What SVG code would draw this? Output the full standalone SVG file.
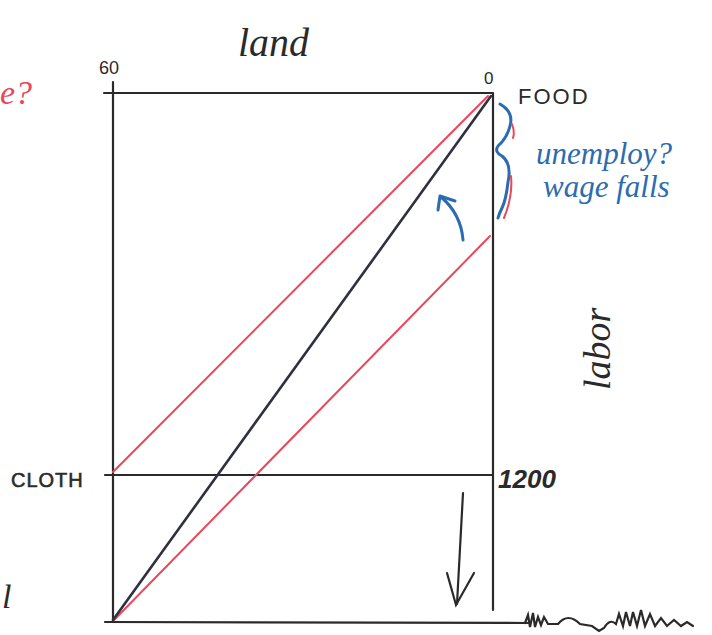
<svg xmlns="http://www.w3.org/2000/svg" width="712" height="635" viewBox="0 0 712 635">
<style>
.ax{stroke:#2a2a2a;stroke-width:2.2;fill:none;stroke-linecap:round}
.blk{stroke:#2f3040;stroke-width:2.6;fill:none;stroke-linecap:round}
.red{stroke:#e8485a;stroke-width:2;fill:none;stroke-linecap:round}
.blue{stroke:#2b6cb0;stroke-width:3;fill:none;stroke-linecap:round;stroke-linejoin:round}
.hand{font-family:"Liberation Serif",serif;font-style:italic;fill:#2a2a2a}
.caps{font-family:"Liberation Sans",sans-serif;fill:#2a2a2a}
.btxt{font-family:"Liberation Serif",serif;font-style:italic;fill:#2b6cb0}
</style>
<rect width="712" height="635" fill="#ffffff"/>
<g id="axes">
<line class="ax" x1="104" y1="93" x2="492" y2="93"/>
<line class="ax" x1="113" y1="82" x2="113" y2="622"/>
<line class="ax" x1="493" y1="93" x2="493" y2="610"/>
<line class="ax" x1="105" y1="475" x2="493" y2="475"/>
<line class="ax" x1="105" y1="622" x2="530" y2="623"/>
<path class="ax" stroke-width="1.8" d="M525 623 l3 -8 l2 12 l3 -14 l2 14 l3 -10 l3 8 l3 -8 l4 7 l10 0 q10 -12 22 0 l12 2 l7 5 l5 -3 q6 -10 12 -4 l3 -10 l4 12 l3 -14 l4 14 l3 -14 l4 14 l4 -16 l4 16 l5 -12 l5 12 l6 -8 l6 8 l7 -6 l7 6 l6 -4 l6 4"/>
</g>
<g id="lines">
<line class="red" x1="113" y1="472" x2="488" y2="96"/>
<line class="red" x1="114" y1="620" x2="490" y2="236"/>
<line class="blk" x1="113" y1="620" x2="491" y2="96"/>
</g>
<g id="labels">
<text class="hand" x="238" y="56" font-size="40">land</text>
<text class="caps" x="99" y="74" font-size="18">60</text>
<text class="caps" x="484" y="84" font-size="17">0</text>
<text class="caps" x="518" y="104" font-size="22" letter-spacing="2">FOOD</text>
<text class="caps" x="11" y="487" font-size="20" letter-spacing="1" stroke="#2a2a2a" stroke-width="0.6">CLOTH</text>
<text class="caps" x="498" y="488" font-size="26" font-style="italic" font-weight="bold">1200</text>
<text class="hand" x="0" y="0" font-size="38" transform="translate(610,390) rotate(-90)">labor</text>
<text class="hand" x="0" y="104" font-size="34" style="fill:#e8485a">e?</text>
<text class="hand" x="2" y="608" font-size="34">l</text>
</g>
<g id="annotation">
<path class="blue" d="M500 104 q14 8 10 22 q-3 12 -12 20 q-4 6 4 10 q10 8 6 26 q-2 18 -6 26 q-3 6 -4 10" stroke="#2b3a70"/>
<path class="red" stroke-width="2.4" d="M512 124 q3 8 1 14 M511 176 q2 20 -7 42"/>
<text class="btxt" x="536" y="164" font-size="31">unemploy? </text>
<text class="btxt" x="543" y="197" font-size="31">wage falls</text>
<path class="blue" d="M463 240 q-2 -26 -22 -43"/>
<path class="blue" d="M438 210 l2 -14 l15 5"/>
</g>
<g id="arrow-down">
<path class="ax" stroke-width="2.4" d="M463 493 L457 604"/>
<path class="ax" stroke-width="2.4" d="M447 573 L456 605 L474 573"/>
</g>
</svg>
